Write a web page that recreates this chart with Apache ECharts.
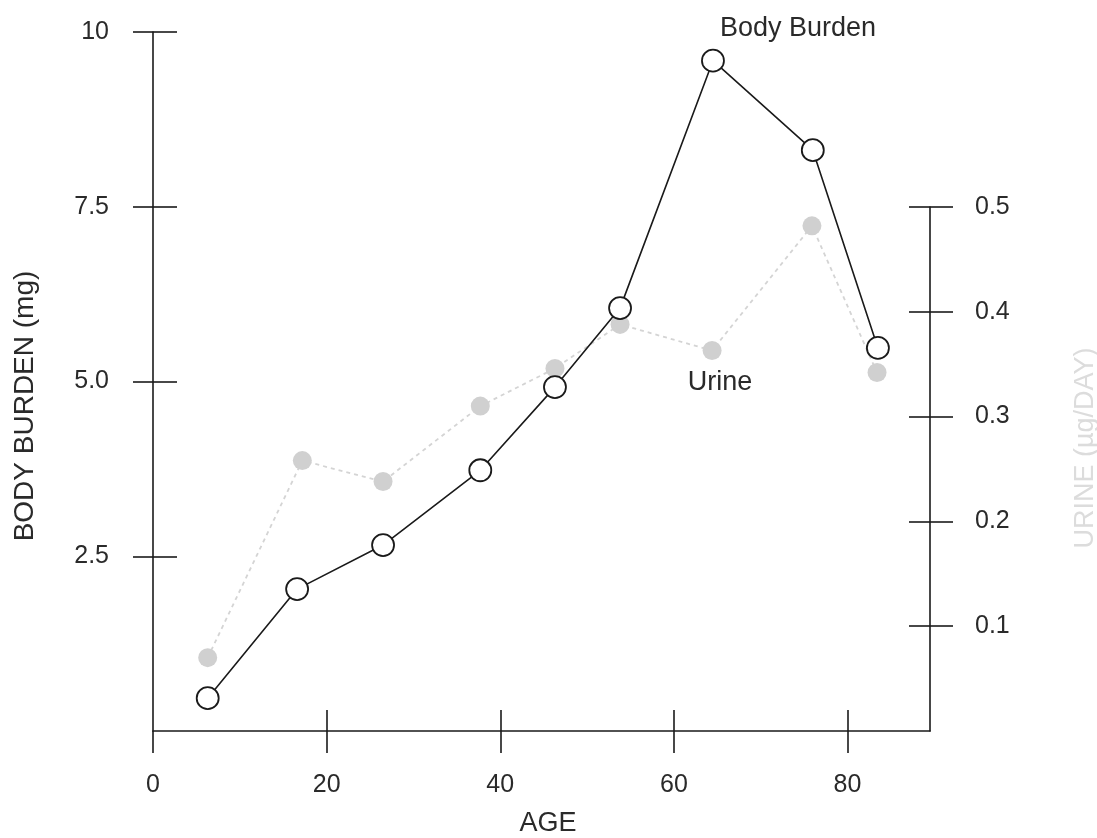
<!DOCTYPE html>
<html>
<head>
<meta charset="utf-8">
<script src="https://cdn.jsdelivr.net/npm/echarts@6/dist/echarts.min.js"></script>
<style>
html, body { margin: 0; padding: 0; background: #fff; }
#chart { width: 1097px; height: 838px; }
</style>
</head>
<body>
<div id="chart"></div>
<script>
// ages
var ages = [6.3, 16.6, 26.5, 37.7, 46.3, 53.8, 64.5, 76.0, 83.5];
var bodyBurden = [0.47, 2.03, 2.66, 3.73, 4.92, 6.05, 9.59, 8.31, 5.48];
var urineAges = [6.3, 17.2, 26.5, 37.7, 46.3, 53.8, 64.4, 75.9, 83.4];
var urine = [0.070, 0.258, 0.238, 0.310, 0.346, 0.388, 0.363, 0.482, 0.342];

var ageTicks = [0, 20, 40, 60, 80];
var bodyTicks = [2.5, 5, 7.5, 10];
var urineTicks = [0.1, 0.2, 0.3, 0.4, 0.5];

var font = 'Liberation Sans, Arial, sans-serif';
var ink = '#1a1a1a';
var txt = '#2a2a2a';

var bodyData = [];
for (var i = 0; i < ages.length; i++) {
    bodyData.push([ages[i], bodyBurden[i]]);
}
var urineData = [];
for (var j = 0; j < urineAges.length; j++) {
    urineData.push([urineAges[j], urine[j]]);
}

var lineStyle = { color: ink, width: 1.6 };

function bodyGrid() {
    return { left: 153, right: 167, top: 32, bottom: 107, outerBoundsMode: 'none' };
}
function urineGrid() {
    return { left: 153, right: 167, top: 207, bottom: 107, outerBoundsMode: 'none' };
}
function hiddenX(g) {
    return { gridIndex: g, type: 'value', min: 0, max: 89.5, show: false };
}

var myChart = echarts.init(document.getElementById('chart'));
var option = {
    backgroundColor: '#fff',
    animation: false,
    // grids 2 and 3 repeat 0 and 1, only to draw the inner half of each crossing tick
    grid: [bodyGrid(), urineGrid(), bodyGrid(), urineGrid()],
    xAxis: [
        {
            gridIndex: 0, type: 'value', min: 0, max: 89.5, interval: 20,
            axisLine: { onZero: false, lineStyle: lineStyle },
            axisTick: { length: 22, lineStyle: lineStyle, customValues: ageTicks },
            axisLabel: { margin: 42, fontFamily: font, fontSize: 25, color: txt, customValues: ageTicks },
            splitLine: { show: false }
        },
        hiddenX(1),
        {
            gridIndex: 2, type: 'value', min: 0, max: 89.5, interval: 20,
            axisLine: { show: false, onZero: false },
            axisTick: { inside: true, length: 21, lineStyle: lineStyle, customValues: [20, 40, 60, 80] },
            axisLabel: { show: false },
            splitLine: { show: false }
        },
        hiddenX(3)
    ],
    yAxis: [
        {
            gridIndex: 0, type: 'value', min: 0, max: 10, interval: 2.5, position: 'left',
            axisLine: { show: true, onZero: false, lineStyle: lineStyle },
            axisTick: { show: true, length: 20, lineStyle: lineStyle, customValues: bodyTicks },
            axisLabel: {
                margin: 44, fontFamily: font, fontSize: 25, color: txt, customValues: bodyTicks,
                formatter: function (v) { return v === 10 ? '10' : v.toFixed(1); }
            },
            splitLine: { show: false }
        },
        {
            gridIndex: 1, type: 'value', min: 0, max: 0.5, interval: 0.1, position: 'right',
            axisLine: { show: true, onZero: false, lineStyle: lineStyle },
            axisTick: { show: true, length: 23, lineStyle: lineStyle, customValues: urineTicks },
            axisLabel: {
                margin: 45, fontFamily: font, fontSize: 25, color: txt, customValues: urineTicks,
                formatter: function (v) { return v.toFixed(1); }
            },
            splitLine: { show: false }
        },
        {
            gridIndex: 2, type: 'value', min: 0, max: 10, interval: 2.5, position: 'left',
            axisLine: { show: false, onZero: false },
            axisTick: { show: true, inside: true, length: 24, lineStyle: lineStyle, customValues: bodyTicks },
            axisLabel: { show: false },
            splitLine: { show: false }
        },
        {
            gridIndex: 3, type: 'value', min: 0, max: 0.5, interval: 0.1, position: 'right',
            axisLine: { show: false, onZero: false },
            axisTick: { show: true, inside: true, length: 21, lineStyle: lineStyle, customValues: urineTicks },
            axisLabel: { show: false },
            splitLine: { show: false }
        }
    ],
    graphic: [
        {
            type: 'text', x: 25, y: 406, rotation: Math.PI / 2,
            style: { text: 'BODY BURDEN (mg)', fontFamily: font, fontSize: 28, fill: txt,
                     textAlign: 'center', textVerticalAlign: 'middle' }
        },
        {
            type: 'text', x: 1086, y: 448, rotation: Math.PI / 2,
            style: { text: 'URINE (µg/DAY)', fontFamily: font, fontSize: 27, fill: '#dcdcdc',
                     textAlign: 'center', textVerticalAlign: 'middle' }
        },
        {
            type: 'text', x: 548, y: 824,
            style: { text: 'AGE', fontFamily: font, fontSize: 27, fill: txt,
                     textAlign: 'center', textVerticalAlign: 'middle' }
        },
        {
            type: 'text', x: 798, y: 29,
            style: { text: 'Body Burden', fontFamily: font, fontSize: 27, fill: txt,
                     textAlign: 'center', textVerticalAlign: 'middle' }
        },
        {
            type: 'text', x: 720, y: 383,
            style: { text: 'Urine', fontFamily: font, fontSize: 27, fill: txt,
                     textAlign: 'center', textVerticalAlign: 'middle' }
        }
    ],
    series: [
        {
            name: 'Urine', type: 'line', xAxisIndex: 1, yAxisIndex: 1,
            data: urineData,
            symbol: 'circle', symbolSize: 19,
            lineStyle: { color: '#d4d4d4', width: 1.8, type: [4, 4] },
            itemStyle: { color: '#d0d0d0', borderWidth: 0 },
            z: 2
        },
        {
            name: 'Body Burden', type: 'line', xAxisIndex: 0, yAxisIndex: 0,
            data: bodyData,
            symbol: 'circle', symbolSize: 22,
            lineStyle: { color: ink, width: 1.6 },
            itemStyle: { color: '#fff', borderColor: ink, borderWidth: 1.8 },
            z: 3
        }
    ]
};
myChart.setOption(option);
</script>
</body>
</html>
